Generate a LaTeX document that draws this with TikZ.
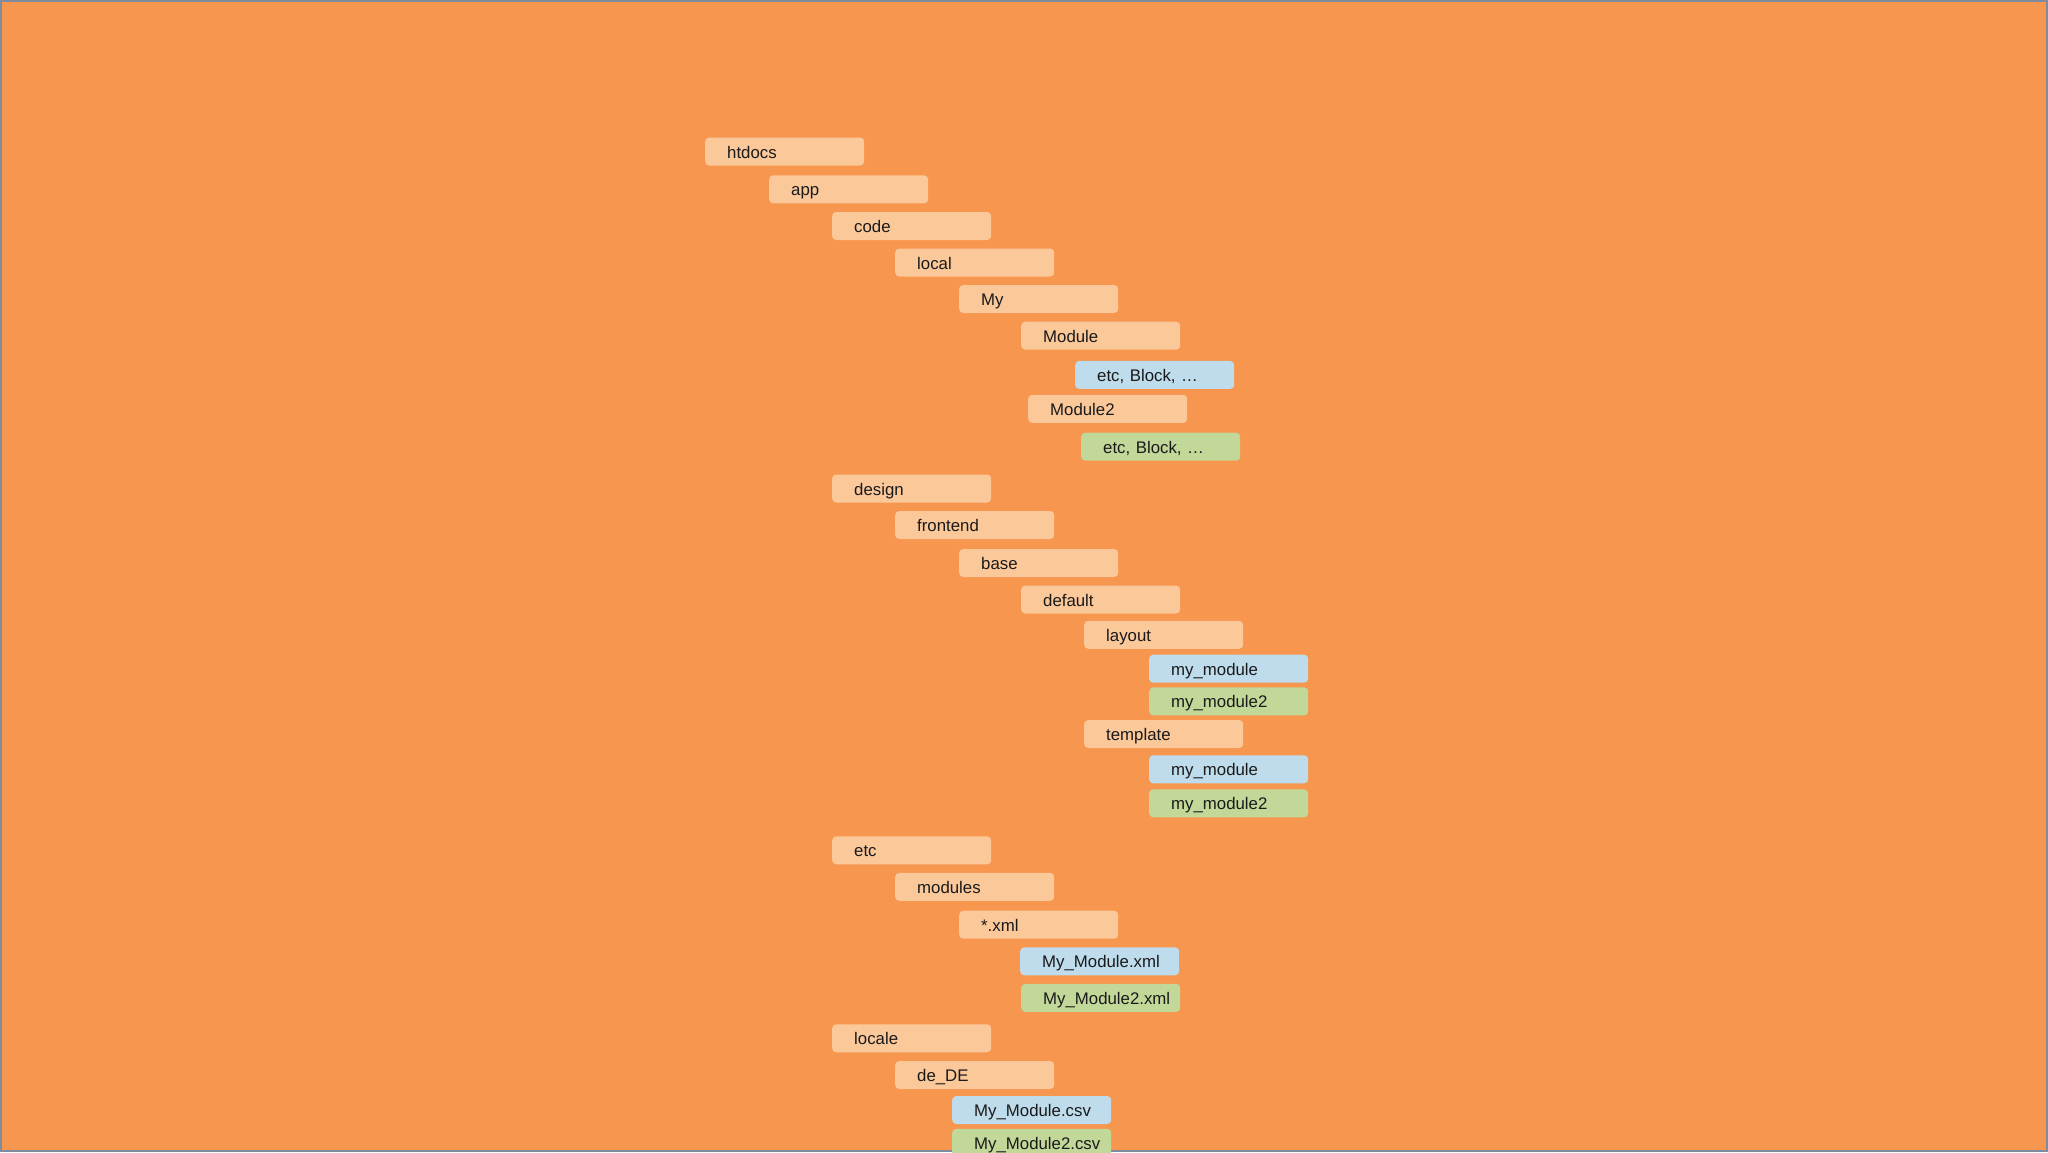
\documentclass[tikz,border=0pt]{standalone}
\usepackage{fontspec}
\setmainfont{Liberation Sans}
\definecolor{bgorange}{HTML}{F6964F}
\definecolor{peach}{HTML}{FBC89A}
\definecolor{skyblue}{HTML}{BEDCEC}
\definecolor{leafgreen}{HTML}{C2D898}
\definecolor{framegray}{HTML}{7F8A9A}
\definecolor{inktext}{HTML}{1A1A1A}
\tikzset{
  folder/.style={anchor=west, fill=peach, rounded corners=4pt, minimum height=28pt,
    inner xsep=22pt, inner ysep=0pt, text width=115pt, align=left,
    text height=13pt, text depth=0pt, text=inktext,
    font=\fontsize{16.8}{18}\selectfont},
  blueitem/.style={folder, fill=skyblue},
  greenitem/.style={folder, fill=leafgreen}
}
\begin{document}
\begin{tikzpicture}[x=1pt,y=-1pt]
\useasboundingbox (0,0) rectangle (2048,1152);
\clip (0,0) rectangle (2048,1152);
\fill[bgorange] (0,0) rectangle (2048,1152);
\draw[framegray, line width=2pt] (1,1) rectangle (2047,1151);
\node[folder] (n1) at (705,151.5) {htdocs};
\node[folder] (n2) at (769,189.4) {app};
\node[folder] (n3) at (832,226) {code};
\node[folder] (n4) at (895,262.5) {local};
\node[folder] (n5) at (959,299) {My};
\node[folder] (n6) at (1021,335.7) {Module};
\node[blueitem] (n7) at (1075,374.9) {etc, Block, \dots};
\node[folder] (n8) at (1028,408.8) {Module2};
\node[greenitem] (n9) at (1081,446.7) {etc, Block, \dots};
\node[folder] (n10) at (832,488.5) {design};
\node[folder] (n11) at (895,525) {frontend};
\node[folder] (n12) at (959,563) {base};
\node[folder] (n13) at (1021,599.5) {default};
\node[folder] (n14) at (1084,634.8) {layout};
\node[blueitem] (n15) at (1149,668.7) {my\_module};
\node[greenitem] (n16) at (1149,701.4) {my\_module2};
\node[folder] (n17) at (1084,734) {template};
\node[blueitem] (n18) at (1149,769.3) {my\_module};
\node[greenitem] (n19) at (1149,803.3) {my\_module2};
\node[folder] (n20) at (832,850.3) {etc};
\node[folder] (n21) at (895,886.8) {modules};
\node[folder] (n22) at (959,924.7) {*.xml};
\node[blueitem] (n23) at (1020,961.3) {My\_Module.xml};
\node[greenitem] (n24) at (1021,997.8) {My\_Module2.xml};
\node[folder] (n25) at (832,1038.3) {locale};
\node[folder] (n26) at (895,1075) {de\_DE};
\node[blueitem] (n27) at (952,1110) {My\_Module.csv};
\node[greenitem] (n28) at (952,1142.8) {My\_Module2.csv};
\end{tikzpicture}
\end{document}
